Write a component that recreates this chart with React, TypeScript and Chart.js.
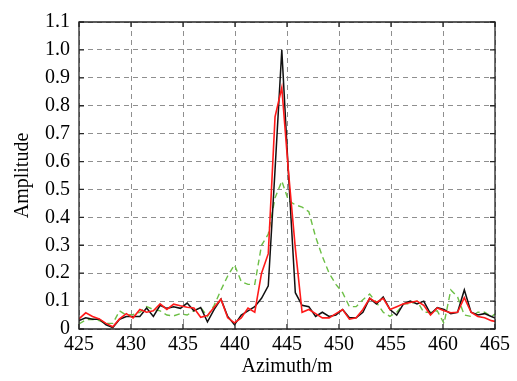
import React, { useEffect, useRef } from "react";
import { Chart, registerables } from "chart.js";

Chart.register(...registerables);

const azimuth = [
  425, 425.65, 426.3, 426.95, 427.6, 428.25, 428.9, 429.55, 430.2, 430.85,
  431.5, 432.15, 432.8, 433.45, 434.1, 434.75, 435.4, 436.05, 436.7, 437.35,
  438, 438.65, 439.3, 439.95, 440.6, 441.25, 441.9, 442.55, 443.2, 443.85,
  444.5, 445.15, 445.8, 446.45, 447.1, 447.75, 448.4, 449.05, 449.7, 450.35,
  451, 451.65, 452.3, 452.95, 453.6, 454.25, 454.9, 455.55, 456.2, 456.85,
  457.5, 458.15, 458.8, 459.45, 460.1, 460.75, 461.4, 462.05, 462.7, 463.35,
  464, 464.65, 465.3,
];

const blackSeries = [
  0.03, 0.04, 0.035, 0.035, 0.015, 0.005, 0.035, 0.045, 0.045, 0.045,
  0.075, 0.045, 0.085, 0.074, 0.08, 0.074, 0.093, 0.065, 0.077, 0.026,
  0.07, 0.107, 0.045, 0.015, 0.05, 0.065, 0.08, 0.11, 0.155, 0.57,
  1.0, 0.55, 0.13, 0.085, 0.08, 0.045, 0.06, 0.045, 0.05, 0.07,
  0.04, 0.04, 0.06, 0.11, 0.09, 0.115, 0.07, 0.05, 0.09, 0.1,
  0.09, 0.1, 0.054, 0.077, 0.07, 0.055, 0.06, 0.14, 0.06, 0.05,
  0.055, 0.045, 0.035,
];

const redSeries = [
  0.036, 0.058, 0.045, 0.036, 0.02, 0.008, 0.036, 0.055, 0.04, 0.07,
  0.06, 0.065, 0.09, 0.07, 0.089, 0.083, 0.078, 0.075, 0.042, 0.048,
  0.078, 0.107, 0.04, 0.022, 0.04, 0.075, 0.06, 0.2, 0.27, 0.76,
  0.865, 0.56, 0.29, 0.06, 0.07, 0.055, 0.04, 0.04, 0.055, 0.07,
  0.035, 0.04, 0.07, 0.11, 0.095, 0.11, 0.07, 0.08, 0.09, 0.095,
  0.1, 0.085, 0.05, 0.075, 0.065, 0.058, 0.06, 0.112, 0.06, 0.045,
  0.04, 0.03, 0.025,
];

const greenSeries = [
  0.018, 0.033, 0.035, 0.03, 0.02, 0.02, 0.065, 0.05, 0.052, 0.06,
  0.08, 0.07, 0.065, 0.05, 0.047, 0.055, 0.05, 0.065, 0.077, 0.045,
  0.085, 0.14, 0.19, 0.23, 0.17, 0.16, 0.16, 0.3, 0.34, 0.47,
  0.53, 0.46, 0.445, 0.437, 0.42, 0.33, 0.26, 0.2, 0.16, 0.13,
  0.08, 0.08, 0.105, 0.125, 0.095, 0.06, 0.045, 0.06, 0.09, 0.09,
  0.1, 0.06, 0.06, 0.065, 0.02, 0.14, 0.115, 0.05, 0.045, 0.06,
  0.06, 0.045, 0.06,
];

const xTicks = [425, 430, 435, 440, 445, 450, 455, 460, 465];
const yTicks = [0, 0.1, 0.2, 0.3, 0.4, 0.5, 0.6, 0.7, 0.8, 0.9, 1.0, 1.1];

const FONT = "'Liberation Serif', 'Times New Roman', serif";

const framePlugin = {
  id: "frameTicks",
  afterDatasetsDraw(chart: any) {
    const { ctx, chartArea } = chart;
    const { left, right, top, bottom } = chartArea;
    const xs = chart.scales.x;
    const ys = chart.scales.y;
    const len = 5;
    ctx.save();
    ctx.strokeStyle = "#262626";
    ctx.lineWidth = 1.3;
    ctx.setLineDash([]);
    ctx.beginPath();
    ctx.rect(left, top, right - left, bottom - top);
    ctx.stroke();
    ctx.beginPath();
    for (const v of xTicks) {
      const px = xs.getPixelForValue(v);
      ctx.moveTo(px, bottom);
      ctx.lineTo(px, bottom - len);
      ctx.moveTo(px, top);
      ctx.lineTo(px, top + len);
    }
    for (const v of yTicks) {
      const py = ys.getPixelForValue(v);
      ctx.moveTo(left, py);
      ctx.lineTo(left + len, py);
      ctx.moveTo(right, py);
      ctx.lineTo(right - len, py);
    }
    ctx.stroke();
    ctx.restore();
  },
};

export default function App() {
  const ref = useRef<HTMLCanvasElement | null>(null);

  useEffect(() => {
    if (!ref.current) return;
    const mk = (vals: number[]) => azimuth.map((x, i) => ({ x, y: vals[i] }));
    const chart = new Chart(ref.current, {
      type: "line",
      data: {
        datasets: [
          {
            label: "red",
            data: mk(redSeries),
            borderColor: "#ff1a1a",
            borderWidth: 1.6,
            pointRadius: 0,
            tension: 0,
            order: 0,
          },
          {
            label: "black",
            data: mk(blackSeries),
            borderColor: "#111111",
            borderWidth: 1.5,
            pointRadius: 0,
            tension: 0,
            order: 1,
          },
          {
            label: "green",
            data: mk(greenSeries),
            borderColor: "#6cbf45",
            borderWidth: 1.4,
            borderDash: [6, 4],
            pointRadius: 0,
            tension: 0,
            order: 2,
          },
        ],
      },
      options: {
        animation: false,
        responsive: false,
        devicePixelRatio: 1,
        layout: { padding: { top: 22, right: 22, left: 0, bottom: 0 } },
        plugins: { legend: { display: false }, tooltip: { enabled: false } },
        scales: {
          x: {
            type: "linear",
            min: 425,
            max: 465,
            afterBuildTicks: (s: any) => {
              s.ticks = xTicks.map((v) => ({ value: v }));
            },
            afterFit: (s: any) => {
              s.height = 52;
            },
            ticks: {
              color: "#000",
              font: { family: FONT, size: 20 },
              padding: 4,
              maxRotation: 0,
              autoSkip: false,
              callback: (v: any) => String(v),
            },
            grid: { color: "#8f8f8f", lineWidth: 1, drawTicks: false },
            border: { display: false, dash: [5, 4] },
            title: {
              display: true,
              text: "Azimuth/m",
              color: "#000",
              font: { family: FONT, size: 20 },
              padding: { top: 0, bottom: 2 },
            },
          },
          y: {
            type: "linear",
            min: 0,
            max: 1.1,
            afterBuildTicks: (s: any) => {
              s.ticks = yTicks.map((v) => ({ value: v }));
            },
            afterFit: (s: any) => {
              s.width = 79;
            },
            ticks: {
              color: "#000",
              font: { family: FONT, size: 20 },
              padding: 9,
              autoSkip: false,
              callback: (v: any) => (Number(v) === 0 ? "0" : Number(v).toFixed(1)),
            },
            grid: { color: "#8f8f8f", lineWidth: 1, drawTicks: false },
            border: { display: false, dash: [5, 4] },
            title: {
              display: true,
              text: "Amplitude",
              color: "#000",
              font: { family: FONT, size: 20 },
              padding: { top: 11, bottom: 0 },
            },
          },
        },
      },
      plugins: [framePlugin],
    } as any);
    return () => chart.destroy();
  }, []);

  return (
    <div style={{ position: "fixed", left: 0, top: 0, width: 517, height: 381, background: "#fff" }}>
      <canvas ref={ref} width={517} height={381} />
    </div>
  );
}
